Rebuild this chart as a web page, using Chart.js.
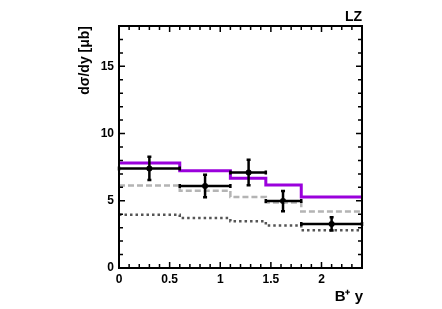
<!DOCTYPE html>
<html>
<head>
<meta charset="utf-8">
<script src="https://cdn.jsdelivr.net/npm/chart.js@4.4.1/dist/chart.umd.min.js"></script>
<style>
  html, body { margin: 0; padding: 0; background: #fff; }
  #wrap { width: 442px; height: 309px; }
</style>
</head>
<body>
<div id="wrap"><canvas id="lzChart" width="442" height="309"></canvas></div>
<script>
// ===================== data =====================
var binEdges = [0, 0.6, 1.1, 1.45, 1.8, 2.4];
var predPurple = [7.81, 7.24, 6.67, 6.17, 5.28];   // solid purple
var predDashed = [6.14, 5.75, 5.28, 4.87, 4.20];   // grey dashed
var predDotted = [3.96, 3.71, 3.48, 3.16, 2.81];   // dark dotted
var dataX = [0.30, 0.85, 1.28, 1.62, 2.10];
var dataY = [7.41, 6.10, 7.11, 4.98, 3.28];
var dataErr = [0.87, 0.84, 0.95, 0.75, 0.50];
var xTicks = [0, 0.5, 1, 1.5, 2];
var yTicks = [0, 5, 10, 15];

var FONT = "Liberation Sans, Arial, Helvetica, sans-serif";

// histogram as step line (last bin repeated at upper edge)
function histPoints(vals) {
  var pts = [];
  for (var i = 0; i < vals.length; i++) pts.push({ x: binEdges[i], y: vals[i] });
  pts.push({ x: binEdges[binEdges.length - 1], y: vals[vals.length - 1] });
  return pts;
}

// frame, inward ticks, error bars, titles
var rootStyle = {
  id: "rootStyle",
  afterDatasetsDraw: function (chart) {
    var c = chart.ctx, a = chart.chartArea;
    var xs = chart.scales.x, ys = chart.scales.y;
    c.save();

    // error bars
    c.strokeStyle = "#000";
    c.lineWidth = 2.5;
    for (var i = 0; i < dataX.length; i++) {
      var px = xs.getPixelForValue(dataX[i]);
      var py = ys.getPixelForValue(dataY[i]);
      var x1 = xs.getPixelForValue(binEdges[i]);
      var x2 = xs.getPixelForValue(binEdges[i + 1]);
      var yt = ys.getPixelForValue(dataY[i] + dataErr[i]);
      var yb = ys.getPixelForValue(dataY[i] - dataErr[i]);
      c.beginPath();
      c.moveTo(x1, py); c.lineTo(x2, py);
      c.moveTo(px, yt); c.lineTo(px, yb);
      // caps
      c.moveTo(x1, py - 2); c.lineTo(x1, py + 2);
      c.moveTo(x2, py - 2); c.lineTo(x2, py + 2);
      c.moveTo(px - 2, yt); c.lineTo(px + 2, yt);
      c.moveTo(px - 2, yb); c.lineTo(px + 2, yb);
      c.stroke();
    }

    // frame
    c.strokeStyle = "#000";
    c.lineWidth = 2;
    c.strokeRect(a.left, a.top, a.right - a.left, a.bottom - a.top);

    // ticks pointing inward
    c.lineWidth = 1.5;
    c.beginPath();
    for (var k = 0; k <= 24; k++) {
      var v = k / 10;
      var x = xs.getPixelForValue(v);
      var len = (k % 5 === 0) ? 6 : 4;
      c.moveTo(x, a.bottom); c.lineTo(x, a.bottom - len);
      c.moveTo(x, a.top); c.lineTo(x, a.top + len);
    }
    for (var j = 0; j <= 18; j++) {
      var y = ys.getPixelForValue(j);
      var l2 = (j % 5 === 0) ? 6 : 4;
      c.moveTo(a.left, y); c.lineTo(a.left + l2, y);
      c.moveTo(a.right, y); c.lineTo(a.right - l2, y);
    }
    c.stroke();

    // texts
    c.fillStyle = "#000";
    c.font = "bold 14px " + FONT;
    c.textAlign = "right";
    c.textBaseline = "alphabetic";
    c.fillText("LZ", a.right, a.top - 5);

    c.font = "bold 15px " + FONT;
    c.fillText("B\u207A y", a.right + 1, 301);

    c.translate(85, a.top);
    c.rotate(-Math.PI / 2);
    c.textAlign = "right";
    c.textBaseline = "middle";
    c.font = "bold 14px " + FONT;
    c.fillText("d\u03C3/dy [\u03BCb]", 0, 0);
    c.restore();
  }
};

var ctx = document.getElementById("lzChart").getContext("2d");
var lzChart = new Chart(ctx, {
  type: "line",
  data: {
    datasets: [
      {
        data: histPoints(predDotted),
        borderColor: "#555555",
        borderWidth: 2.5,
        borderDash: [2.5, 3],
        stepped: true,
        pointRadius: 0,
        fill: false
      },
      {
        data: histPoints(predDashed),
        borderColor: "#b4b4b4",
        borderWidth: 2.5,
        borderDash: [6, 3],
        stepped: true,
        pointRadius: 0,
        fill: false
      },
      {
        data: histPoints(predPurple),
        borderColor: "#9a00dc",
        borderWidth: 3,
        stepped: true,
        pointRadius: 0,
        fill: false
      },
      {
        data: dataX.map(function (x, i) { return { x: x, y: dataY[i] }; }),
        showLine: false,
        pointRadius: 3,
        pointBackgroundColor: "#000",
        pointBorderColor: "#000",
        pointBorderWidth: 0
      }
    ]
  },
  options: {
    responsive: false,
    animation: false,
    events: [],
    layout: { padding: { top: 26, right: 80, left: 0, bottom: 0 } },
    plugins: { legend: { display: false }, tooltip: { enabled: false } },
    scales: {
      x: {
        type: "linear",
        min: 0,
        max: 2.4,
        afterFit: function (s) { s.height = 41; },
        afterBuildTicks: function (s) { s.ticks = xTicks.map(function (v) { return { value: v }; }); },
        grid: { display: false, drawTicks: false },
        border: { display: false },
        ticks: {
          padding: 4,
          color: "#000",
          font: { family: FONT, size: 12, weight: "bold" },
          maxRotation: 0,
          callback: function (v) { return String(v); }
        }
      },
      y: {
        type: "linear",
        min: 0,
        max: 18,
        afterFit: function (s) { s.width = 119; },
        afterBuildTicks: function (s) { s.ticks = yTicks.map(function (v) { return { value: v }; }); },
        grid: { display: false, drawTicks: false },
        border: { display: false },
        ticks: {
          padding: 5,
          color: "#000",
          font: { family: FONT, size: 12, weight: "bold" }
        }
      }
    }
  },
  plugins: [rootStyle]
});
</script>
</body>
</html>
